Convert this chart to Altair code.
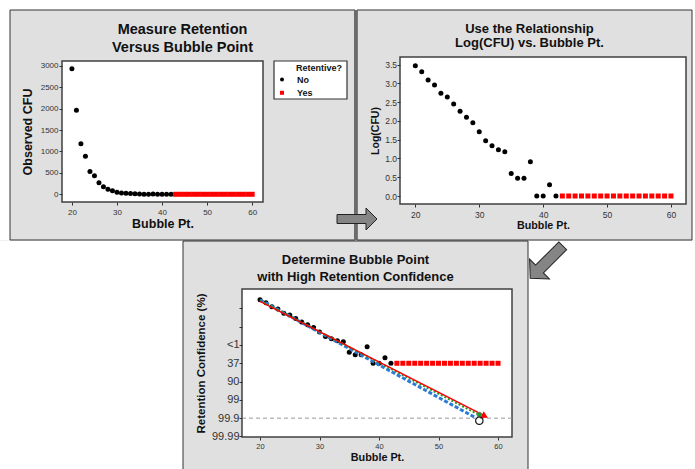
import altair as alt
import pandas as pd

# ---------------- data ----------------
bubble_no = [20, 21, 22, 23, 24, 25, 26, 27, 28, 29, 30, 31, 32, 33, 34, 35, 36, 37, 38, 39, 40, 41, 42]
cfu_no = [2930, 1960, 1180, 890, 530, 430, 270, 175, 120, 85, 50, 30, 22, 17, 15, 4, 3, 3, 8, 1, 1, 2, 1]
log_no = [3.47, 3.31, 3.09, 2.96, 2.74, 2.64, 2.45, 2.26, 2.10, 1.95, 1.71, 1.47, 1.34, 1.23, 1.18,
          0.60, 0.47, 0.47, 0.91, 0.0, 0.0, 0.30, 0.0]
bubble_yes = [43, 44, 45, 46, 47, 48, 49, 50, 51, 52, 53, 54, 55, 56, 57, 58, 59, 60]
cfu_yes = [0, 0, 0, 0, 0, 0, 0, 0, 0, 0, 0, 0, 0, 0, 0, 0, 0, 0]
log_yes = [0.0, 0.0, 0.0, 0.0, 0.0, 0.0, 0.0, 0.0, 0.0, 0.0, 0.0, 0.0, 0.0, 0.0, 0.0, 0.0, 0.0, 0.0]
groups = ["No", "Yes"]
legend_title = "Retentive?"

x_ticks = [20, 30, 40, 50, 60]
cfu_ticks = [0, 500, 1000, 1500, 2000, 2500, 3000]
log_ticks = [0.0, 0.5, 1.0, 1.5, 2.0, 2.5, 3.0, 3.5]
conf_ticks = [3, 2, 1, 0, -1, -2, -3, -4]
conf_labels = ["", "", "<1", "37", "90", "99", "99.9", "99.99"]

# fitted lines in panel 3 (bubble pt, log CFU)
blue_x = [20, 56.2]
blue_y = [3.47, -2.97]
green_x = [20, 56.8]
green_y = [3.43, -2.82]
red_x = [20, 57.7]
red_y = [3.38, -2.86]
red_tip_x = [57.8]
red_tip_y = [-2.89]
target_x = [56.86]
target_y = [-3.14]
green_pt_x = [56.86]
green_pt_y = [-2.81]
ref_conf = [-3]

df = pd.DataFrame({
    "bubble": bubble_no + bubble_yes,
    "cfu": cfu_no + cfu_yes,
    "logcfu": log_no + log_yes,
    "retentive": ["No"] * len(bubble_no) + ["Yes"] * len(bubble_yes),
})

FONT = "Liberation Sans"
H = 469
PANEL = "#e0e0e0"
one = alt.Data(values=[{"k": 0}])


def deco_rect(x, x2, y, y2, fill, stroke=None, sw=0):
    kw = dict(fill=fill, strokeWidth=sw)
    if stroke:
        kw["stroke"] = stroke
    return alt.Chart(one).mark_rect(**kw).encode(
        x=alt.value(x), x2=alt.value(x2), y=alt.value(y), y2=alt.value(y2))


def deco_text(x, y, text, size, lh, align="center"):
    return alt.Chart(one).mark_text(
        font=FONT, fontWeight="bold", fontSize=size, lineBreak="\n", lineHeight=lh,
        align=align, baseline="alphabetic", color="#111111"
    ).encode(x=alt.value(x), y=alt.value(y), text=alt.value(text))


def deco_arrow(x, y, path, size, angle):
    return alt.Chart(one).mark_point(
        shape=path, size=size, angle=angle, filled=True, fill="#858585",
        stroke="#222222", strokeWidth=1, opacity=1
    ).encode(x=alt.value(x), y=alt.value(y))


def xaxis(bottom, center, title_base, tsize, lsize, lpad):
    return alt.Axis(values=x_ticks, title="Bubble Pt.", orient="bottom", offset=bottom - H,
                    titleX=center, titleY=title_base - bottom, titleAlign="center",
                    titleBaseline="alphabetic", titleFontSize=tsize, labelFontSize=lsize,
                    labelPadding=lpad, tickSize=3, domain=False, grid=False, zindex=2)


def yaxis(left, center, title_x, title, tsize, lsize, lpad, values, **kw):
    return alt.Axis(values=values, title=title, orient="left", offset=-left,
                    titleX=title_x - left, titleY=center, titleAngle=270, titleAlign="center",
                    titleBaseline="alphabetic", titleFontSize=tsize, labelFontSize=lsize,
                    labelPadding=lpad, tickSize=3, domain=False, grid=False, zindex=2, **kw)


# scales
sx1 = alt.Scale(domain=[17.8, 62.4], range=[62, 263], nice=False, zero=False)
sy1 = alt.Scale(domain=[-180, 3110], range=[202, 61], nice=False, zero=False)
sx2 = alt.Scale(domain=[17.6, 62.35], range=[400, 686], nice=False, zero=False)
sy2 = alt.Scale(domain=[-0.213, 3.705], range=[204, 57], nice=False, zero=False)
sx3 = alt.Scale(domain=[16.97, 62.35], range=[242, 512], nice=False, zero=False)
sy3 = alt.Scale(domain=[-4.03, 4.06], range=[437, 289], nice=False, zero=False)

col_scale = alt.Scale(domain=groups, range=["#000000", "#ff0000"])
shp_scale = alt.Scale(domain=groups, range=["circle", "square"])

legend1 = alt.Legend(title=None, orient="none", legendX=277.5, legendY=75,
                     padding=0, labelFont=FONT, labelFontSize=9, labelFontWeight="bold",
                     labelColor="#111111", symbolSize=16, symbolStrokeWidth=0, labelOffset=10.5,
                     rowPadding=3.3)

# ---------------- panel 1 ----------------
p1 = alt.Chart(df).mark_point(filled=True, opacity=1, strokeWidth=0, size=25).encode(
    x=alt.X("bubble:Q", scale=sx1, axis=xaxis(202, 162.5, 227.7, 12.5, 8, 3)),
    y=alt.Y("cfu:Q", scale=sy1,
            axis=yaxis(62, 131.5, 31.5, "Observed CFU", 12.5, 8, 1, cfu_ticks, format="d")),
    color=alt.Color("retentive:N", scale=col_scale, legend=legend1),
    shape=alt.Shape("retentive:N", scale=shp_scale, legend=legend1),
)

# ---------------- panel 2 ----------------
p2 = alt.Chart(df).mark_point(filled=True, opacity=1, strokeWidth=0, size=25).encode(
    x=alt.X("bubble:Q", scale=sx2, axis=xaxis(204, 543, 228, 10.7, 8.5, 3)),
    y=alt.Y("logcfu:Q", scale=sy2,
            axis=yaxis(400, 130.5, 378, "Log(CFU)", 10.5, 8.5, 0.5, log_ticks, format=".1f")),
    color=alt.Color("retentive:N", scale=col_scale, legend=None),
    shape=alt.Shape("retentive:N", scale=shp_scale, legend=None),
)

# ---------------- panel 3 ----------------
label_expr = " : ".join(
    [f"datum.value == {v} ? '{l}'" for v, l in zip(conf_ticks, conf_labels)]) + " : ''"

p3_pts = alt.Chart(df).mark_point(filled=True, opacity=1, strokeWidth=0, size=25).encode(
    x=alt.X("bubble:Q", scale=sx3, axis=xaxis(437, 377, 460, 10.8, 7.5, 2)),
    y=alt.Y("logcfu:Q", scale=sy3,
            axis=yaxis(242, 363, 204.2, "Retention Confidence (%)", 11.5, 11, 0, conf_ticks,
                       labelExpr=label_expr)),
    color=alt.Color("retentive:N", scale=col_scale, legend=None),
    shape=alt.Shape("retentive:N", scale=shp_scale, legend=None),
)


def fit_line(xs, ys, color, width, dash=None):
    kw = dict(color=color, strokeWidth=width)
    if dash:
        kw["strokeDash"] = dash
    return alt.Chart(pd.DataFrame({"bx": xs, "ly": ys})).mark_line(**kw).encode(
        x=alt.X("bx:Q", scale=sx3, axis=None), y=alt.Y("ly:Q", scale=sy3, axis=None))


def marker(xs, ys, **kw):
    return alt.Chart(pd.DataFrame({"bx": xs, "ly": ys})).mark_point(opacity=1, **kw).encode(
        x=alt.X("bx:Q", scale=sx3, axis=None), y=alt.Y("ly:Q", scale=sy3, axis=None))


ref_rule = alt.Chart(pd.DataFrame({"conf": ref_conf})).mark_rule(
    color="#9a9a9a", strokeDash=[4, 3], strokeWidth=1
).encode(x=alt.value(242), x2=alt.value(512), y=alt.Y("conf:Q", scale=sy3, axis=None))

blue = fit_line(blue_x, blue_y, "#2a7bd4", 3, [4, 2])
green = fit_line(green_x, green_y, "#1e9a2a", 2, [2, 2])
red = fit_line(red_x, red_y, "#ff0000", 1.5)
red_tip = marker(red_tip_x, red_tip_y, shape="triangle-right", size=60, angle=27, filled=True,
                 fill="#ff0000", strokeWidth=0)
target = marker(target_x, target_y, shape="circle", size=55, filled=False, stroke="#111111",
                strokeWidth=1.2)
green_pt = marker(green_pt_x, green_pt_y, shape="circle", size=22, filled=True, fill="#1e9a2a",
                  stroke="#777777", strokeWidth=1)

# ---------------- decorations ----------------
arrow_r = "M -1 -0.225 L 0.45 -0.225 L 0.45 -0.55 L 1 0 L 0.45 0.55 L 0.45 0.225 L -1 0.225 Z"
arrow_d = "M -1 -0.24 L 0.43 -0.24 L 0.43 -0.61 L 1 0 L 0.43 0.61 L 0.43 0.24 L -1 0.24 Z"

layers = [
    # white page areas around the grey panels (the canvas itself is grey)
    deco_rect(0, 695, 0, 10, "white"),
    deco_rect(0, 10, 0, 240, "white"),
    deco_rect(692, 695, 0, 240, "white"),
    deco_rect(0, 183, 240.5, 469, "white"),
    deco_rect(528, 695, 240.5, 469, "white"),
    # panel borders
    deco_rect(10, 355, 10, 240, PANEL, "#333333", 1),
    deco_rect(357, 692, 10, 240, PANEL, "#333333", 1),
    deco_rect(354, 357.5, 10, 240, "#6b6b6b"),
    deco_rect(183, 528, 241, 475, PANEL, "#333333", 1),
    # plot areas
    deco_rect(62, 263, 61, 202, "white", "#404040", 1.5),
    deco_rect(400, 686, 57, 204, "white", "#404040", 1.5),
    deco_rect(242, 512, 289, 437, "white", "#404040", 1.5),
    # legend box and title
    deco_rect(274, 347, 61, 99, "white", "#333333", 1.2),
    deco_text(296, 70.7, legend_title, 9, 10, align="left"),
    deco_arrow(357, 219, arrow_r, 1600, 0),
    deco_arrow(546.5, 262, arrow_d, 2116, 135),
    deco_text(182.5, 34, "Measure Retention\nVersus Bubble Point", 14.5, 18),
    deco_text(529.5, 32.7, "Use the Relationship\nLog(CFU) vs. Bubble Pt.", 13, 14.5),
    deco_text(355.5, 264.3, "Determine Bubble Point\nwith High Retention Confidence", 13, 16.7),
    p1,
    p2,
    ref_rule,
    p3_pts,
    blue,
    green,
    red,
    red_tip,
    green_pt,
    target,
]

chart = alt.layer(*layers).resolve_scale(
    x="independent", y="independent", color="independent", shape="independent"
).properties(
    width=695, height=469, padding=0, autosize=alt.AutoSizeParams(type="none"), background=PANEL
).configure_view(stroke=None).configure_axis(
    zindex=2, labelFont=FONT, titleFont=FONT, titleFontWeight="bold", titleColor="#111111",
    labelColor="#333333", tickColor="#333333"
)

chart.save("out.html", embed_options={"renderer": "svg", "actions": False})
